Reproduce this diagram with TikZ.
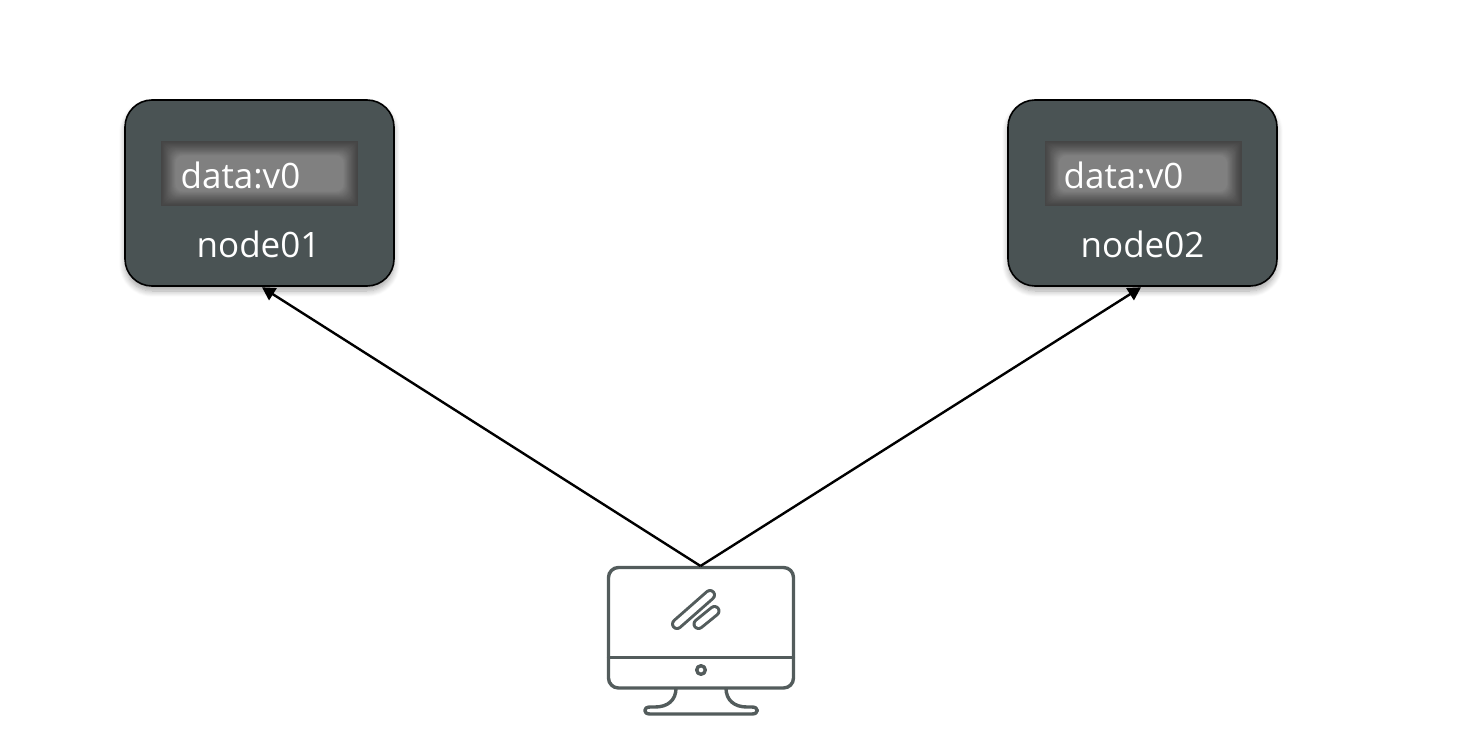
\documentclass[tikz,border=0pt]{standalone}
\usepackage{fontspec}
\setmainfont{Open Sans}
\usetikzlibrary{arrows.meta,shadows.blur}
\definecolor{slatebody}{HTML}{4A5354}
\definecolor{panelcore}{HTML}{808080}
\definecolor{paneledge}{HTML}{454545}
\definecolor{screenline}{HTML}{535C5C}
\tikzset{
  hostbox/.style={draw=black,line width=1.6pt,fill=slatebody,rounded corners=27pt,
    minimum width=269pt,minimum height=186pt,inner sep=0pt,
    blur shadow={shadow xshift=0pt,shadow yshift=-5pt,shadow blur radius=6pt,
      shadow blur steps=8,shadow opacity=35}},
  datatext/.style={text=white,font=\fontsize{35}{38}\selectfont,anchor=base west,inner sep=0pt},
  hosttext/.style={text=white,font=\fontsize{35}{38}\selectfont,anchor=base,inner sep=0pt},
  link/.style={draw=black,line width=2.4pt,-{Triangle[length=13pt,width=14pt]}},
  screenstroke/.style={draw=screenline,line width=3.4pt,line cap=round,line join=round},
}
% Stored value panel: a rectangle whose dark rim melts into a lighter middle.
\newcommand{\valuepanel}[2]{%
  \fill[paneledge] (#1,#2) rectangle ++(197,65);
  \foreach \step in {1,...,18}{%
    \pgfmathsetmacro{\tone}{100*(\step/18)^1.25}
    \pgfmathsetmacro{\bend}{min(\step*0.8,8)}
    \fill[panelcore!\tone!paneledge,rounded corners=\bend pt]
      ({#1+\step*0.8},{#2+\step*0.8}) rectangle ({#1+197-\step*0.8},{#2+65-\step*0.8});
  }%
}
% Diagonal capsule on the screen, outlined in the stroke colour.
\newcommand{\capsule}[4]{%
  \draw[screenline,line width=12pt,line cap=round] (#1,#2) -- (#3,#4);
  \draw[white,line width=6pt,line cap=round] (#1,#2) -- (#3,#4);
}
\begin{document}
\begin{tikzpicture}[x=1pt,y=-1pt]
  \useasboundingbox (0,0) rectangle (1474,754);

  % Hosts
  \node[hostbox] (node01) at (259.5,193) {};
  \node[hostbox] (node02) at (1142.5,193) {};
  \valuepanel{161}{141}
  \valuepanel{1044.5}{141}
  \node[datatext] (data01) at (180.5,188.5) {data:v0};
  \node[datatext] (data02) at (1063.5,188.5) {data:v0};
  \node[hosttext] (label01) at (258.5,257) {node01};
  \node[hosttext] (label02) at (1142.5,257) {node02};

  % Client workstation
  \draw[screenstroke,rounded corners=10pt] (608.5,567.5) rectangle (793.5,688);
  \draw[screenstroke] (608.5,657.5) -- (793.5,657.5);
  \draw[screenstroke] (701,670) circle (4.3);
  \draw[screenstroke,line cap=butt] (676,688) .. controls (676,700) and (668,707) .. (655,707)
    -- (650,707) .. controls (643,707) and (643,714) .. (650,714)
    -- (752,714) .. controls (759,714) and (759,707) .. (752,707)
    -- (747,707) .. controls (734,707) and (726,700) .. (726,688);
  \capsule{677}{624}{710}{595}
  \capsule{698.5}{624}{714.5}{611}
  \coordinate (client) at (700.5,566);

  % Requests from the client to both hosts
  \draw[link] (client) -- ([xshift=2.5pt,yshift=-.5pt]node01.south);
  \draw[link] (client) -- ([xshift=-1.5pt,yshift=-.5pt]node02.south);
\end{tikzpicture}
\end{document}
